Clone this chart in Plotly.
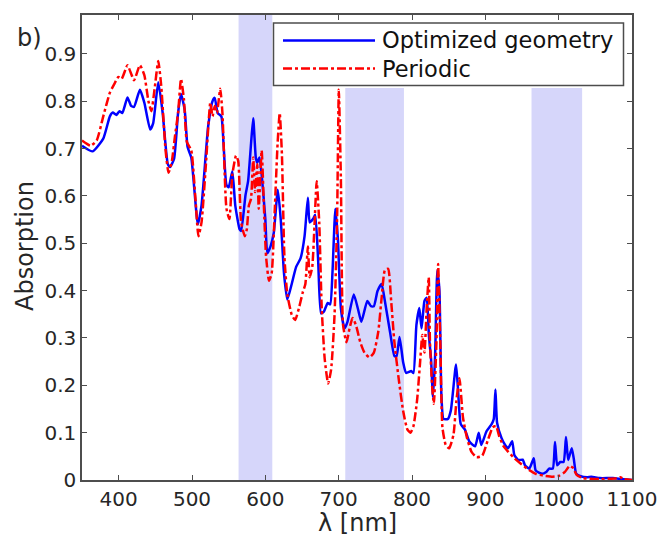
import plotly.graph_objects as go

# Absorption spectrum of the optimized geometry
wl_opt = [350, 364.6, 379, 388, 392, 397, 401, 405, 412, 417, 421, 429, 435, 443, 447, 454,
          460, 467, 470, 475.5, 481, 485, 490, 494, 499, 508, 513, 522, 528, 531, 535, 540,
          543, 547, 550, 555, 559, 565, 567, 573, 576.5, 580.5, 583.5, 587, 589, 592, 595,
          600, 602.7, 607, 611.5, 617, 621, 625.5, 630, 636, 642, 648, 653.5, 658, 660.5,
          665, 668, 672, 676, 680, 685, 688.5, 691.5, 695.5, 699, 703, 708, 712, 720.6,
          726.5, 731, 739, 744, 748, 753, 758.5, 763, 770, 776, 779, 783, 788, 792, 799,
          802, 806, 810, 813, 817, 820, 823, 826, 828.6, 831.5, 834.5, 837.4, 840, 843, 849,
          853, 860, 862.5, 866.5, 872, 878, 886, 891, 894.5, 901.6, 908.6, 911.5, 913.8,
          916, 922, 927, 931, 936.6, 939.5, 945, 951, 954, 960, 966, 968.7, 977.5, 983, 987,
          992, 995, 998, 1002, 1006.7, 1010, 1013, 1017.8, 1020.5, 1024, 1030, 1038.8,
          1044.6, 1056, 1074, 1085.5, 1100]
abs_opt = [0.706, 0.694, 0.721, 0.768, 0.776, 0.771, 0.779, 0.775, 0.808, 0.790, 0.788,
           0.824, 0.797, 0.740, 0.753, 0.840, 0.775, 0.667, 0.661, 0.678, 0.775, 0.815,
           0.782, 0.703, 0.681, 0.540, 0.580, 0.746, 0.800, 0.807, 0.775, 0.768, 0.710,
           0.623, 0.618, 0.652, 0.580, 0.529, 0.526, 0.602, 0.631, 0.710, 0.764, 0.681,
           0.670, 0.681, 0.645, 0.551, 0.479, 0.493, 0.522, 0.613, 0.551, 0.436, 0.381,
           0.414, 0.450, 0.468, 0.515, 0.596, 0.544, 0.551, 0.560, 0.465, 0.352, 0.356,
           0.374, 0.371, 0.436, 0.573, 0.508, 0.363, 0.320, 0.334, 0.392, 0.360, 0.334,
           0.378, 0.367, 0.367, 0.399, 0.414, 0.378, 0.313, 0.262, 0.262, 0.302, 0.248,
           0.226, 0.230, 0.226, 0.327, 0.363, 0.320, 0.378, 0.385, 0.306, 0.255, 0.175,
           0.262, 0.443, 0.400, 0.183, 0.129, 0.129, 0.147, 0.244, 0.197, 0.118, 0.107,
           0.082, 0.071, 0.100, 0.074, 0.103, 0.118, 0.129, 0.191, 0.121, 0.089, 0.074,
           0.067, 0.082, 0.053, 0.042, 0.043, 0.031, 0.024, 0.046, 0.020, 0.013, 0.017,
           0.024, 0.024, 0.080, 0.031, 0.038, 0.038, 0.091, 0.042, 0.067, 0.046, 0.013,
           0.008, 0.006, 0.007, 0.004, 0.004, 0.002, 0.0]

# Absorption spectrum of the periodic reference
wl_per = [350, 361.7, 370, 379, 388, 394, 399.6, 404, 412, 417, 421, 429, 435, 440.6, 444.6,
          449, 454, 458, 464, 468, 472.6, 476.7, 481, 485, 489, 493, 499, 504.7, 508.8, 513,
          519, 525, 528, 531, 534, 538.5, 541.5, 547, 551, 555, 560, 563, 567, 572, 574.7,
          577.6, 580.5, 583.5, 586, 589, 591, 595, 598, 601, 605, 608.6, 612.7, 616.7,
          619.6, 622.6, 626, 630, 636, 640.7, 646.5, 651, 654.6, 658, 660.5, 664, 667, 670,
          673.5, 676.9, 681, 685.6, 689.7, 694.4, 697.9, 700.2, 703, 706, 710.7, 714.8,
          718.9, 723.6, 729.5, 735.2, 742, 748, 754, 758.6, 763, 767.5, 771.6, 776, 782,
          787.8, 793.6, 798, 802, 806.9, 811, 814, 817, 820, 822.8, 824.5, 827.5, 829.8,
          833.3, 835.6, 838.6, 841.5, 846, 850.7, 856.6, 860.6, 864.7, 869.5, 875, 881, 888,
          895.7, 903, 910, 914.5, 919, 925, 931, 939.5, 948, 957, 968.7, 980, 992, 1000.7,
          1008.5, 1015, 1020, 1024.5, 1033, 1056.6, 1080, 1084, 1088.7, 1100]
abs_per = [0.717, 0.706, 0.717, 0.768, 0.818, 0.836, 0.851, 0.847, 0.876, 0.858, 0.844,
           0.876, 0.855, 0.800, 0.779, 0.826, 0.885, 0.833, 0.696, 0.649, 0.674, 0.725,
           0.775, 0.847, 0.804, 0.714, 0.696, 0.594, 0.515, 0.544, 0.667, 0.797, 0.768,
           0.790, 0.775, 0.826, 0.775, 0.573, 0.551, 0.645, 0.685, 0.674, 0.544, 0.515,
           0.529, 0.580, 0.594, 0.681, 0.608, 0.667, 0.573, 0.696, 0.580, 0.472, 0.421,
           0.436, 0.566, 0.710, 0.775, 0.688, 0.472, 0.392, 0.349, 0.338, 0.367, 0.396,
           0.414, 0.493, 0.428, 0.450, 0.537, 0.631, 0.544, 0.363, 0.255, 0.204, 0.233,
           0.349, 0.558, 0.824, 0.638, 0.327, 0.291, 0.320, 0.342, 0.327, 0.291, 0.269,
           0.259, 0.269, 0.313, 0.385, 0.443, 0.446, 0.378, 0.291, 0.212, 0.147, 0.107,
           0.100, 0.114, 0.168, 0.248, 0.306, 0.269, 0.363, 0.428, 0.291, 0.197, 0.161,
           0.291, 0.456, 0.291, 0.111, 0.074, 0.067, 0.096, 0.168, 0.215, 0.132, 0.089,
           0.060, 0.048, 0.051, 0.082, 0.111, 0.114, 0.092, 0.071, 0.060, 0.046, 0.035,
           0.024, 0.013, 0.009, 0.007, 0.009, 0.017, 0.030, 0.025, 0.011, 0.004, 0.002,
           0.004, 0.006, 0.002, 0.0]

# Highlighted wavelength windows: (start, end, top) in nm / absorption units
band_start = [563.5, 709, 963]
band_end = [609.5, 789, 1032]
band_top = [1.0, 0.828, 0.828]

x_ticks = [400, 500, 600, 700, 800, 900, 1000, 1100]
y_ticks = [0, 0.1, 0.2, 0.3, 0.4, 0.5, 0.6, 0.7, 0.8, 0.9]

series_names = ["Optimized geometry", "Periodic"]
series_colors = ["#0000ff", "#ff0000"]
series_dash = ["solid", "dashdot"]

FONT = "DejaVu Sans"
AXIS_COLOR = "#4d4d4d"
TEXT_COLOR = "#262626"

# plot area in pixels (used to place the legend box and labels)
W, H = 672, 536
L, R, T, B = 82, 40, 15, 56
PW, PH = W - L - R, H - T - B


def px_x(px):
    return (px - L) / PW


def px_y(py):
    return (H - B - py) / PH


fig = go.Figure()

for xs, ys, name, color, dash in zip([wl_opt, wl_per], [abs_opt, abs_per],
                                     series_names, series_colors, series_dash):
    fig.add_trace(go.Scatter(
        x=xs, y=ys, mode="lines", name=name, showlegend=False,
        line=dict(color=color, width=2.5, dash=dash, shape="spline", smoothing=0.5),
    ))

for x0, x1, top in zip(band_start, band_end, band_top):
    fig.add_shape(type="rect", xref="x", yref="y", x0=x0, x1=x1, y0=0, y1=top,
                  fillcolor="rgb(214,214,250)", line_width=0, layer="below")

axis_common = dict(
    showline=True, linecolor=AXIS_COLOR, linewidth=1.5, mirror="ticks",
    ticks="inside", ticklen=5, tickwidth=1.3, tickcolor=AXIS_COLOR,
    showgrid=False, zeroline=False, automargin=False,
    tickfont=dict(family=FONT, size=20, color=TEXT_COLOR),
)

fig.update_xaxes(range=[350, 1100], tickvals=x_ticks,
                 ticktext=[str(v) for v in x_ticks], **axis_common)
fig.update_yaxes(range=[0, 0.982], tickvals=y_ticks,
                 ticktext=["0"] + [f"{v:.1f}" for v in y_ticks[1:]], **axis_common)

# axis titles and panel label
fig.add_annotation(text="λ [nm]", xref="paper", yref="paper", x=0.5, y=px_y(523),
                   xanchor="center", yanchor="middle", showarrow=False,
                   font=dict(family=FONT, size=24, color=TEXT_COLOR))
fig.add_annotation(text="Absorption", xref="paper", yref="paper", x=px_x(25), y=px_y(246),
                   xanchor="center", yanchor="middle", textangle=-90, showarrow=False,
                   font=dict(family=FONT, size=24, color=TEXT_COLOR))
fig.add_annotation(text="b)", xref="paper", yref="paper", x=px_x(29), y=px_y(38),
                   xanchor="center", yanchor="middle", showarrow=False,
                   font=dict(family=FONT, size=24, color=TEXT_COLOR))

# legend box
fig.add_shape(type="rect", xref="paper", yref="paper",
              x0=px_x(273.5), x1=px_x(623.5), y0=px_y(85.5), y1=px_y(23),
              fillcolor="white", line=dict(color=AXIS_COLOR, width=1.5), layer="above")
for row_y, name, color, dash in zip([40.5, 68.5], series_names, series_colors, series_dash):
    fig.add_shape(type="line", xref="paper", yref="paper",
                  x0=px_x(283), x1=px_x(375), y0=px_y(row_y), y1=px_y(row_y),
                  line=dict(color=color, width=2.5, dash=dash), layer="above")
    fig.add_annotation(text=name, xref="paper", yref="paper", x=px_x(380), y=px_y(row_y),
                       xanchor="left", yanchor="middle", showarrow=False,
                       font=dict(family=FONT, size=22.5, color="#111111"))

fig.update_layout(
    width=W, height=H,
    margin=dict(l=L, r=R, t=T, b=B),
    plot_bgcolor="white", paper_bgcolor="white",
    showlegend=False,
)

fig.write_html("out.html")
